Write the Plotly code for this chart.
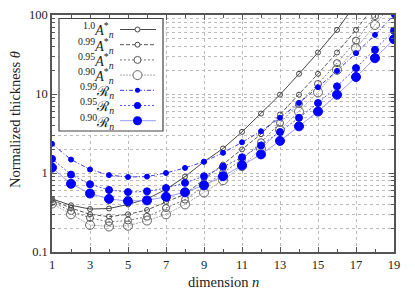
import plotly.graph_objects as go

n = list(range(1, 20))

A100 = [0.47, 0.39, 0.35, 0.355, 0.40, 0.47, 0.62, 0.90, 1.39, 2.04, 3.32, 5.65, 9.8, 18, 33.5, 64.7, 140, None, None]
A099 = [0.455, 0.36, 0.30, 0.28, 0.30, 0.34, 0.43, 0.54, 0.83, 1.28, 1.99, 3.1, 5.5, 9.8, 18, 33.5, 64.7, 135, None]
A095 = [0.43, 0.33, 0.27, 0.24, 0.25, 0.28, 0.36, 0.46, 0.68, 1.0, 1.48, 2.45, 4.3, 7.5, 13.4, 24.6, 47.4, 97, 190]
A090 = [0.41, 0.30, 0.22, 0.21, 0.215, 0.25, 0.30, 0.40, 0.565, 0.81, 1.22, 2.02, 3.5, 6.0, 10.5, 20.2, 38, 74.8, 150]
R099 = [2.34, 1.48, 1.11, 0.94, 0.89, 0.90, 1.0, 1.16, 1.39, 1.8, 2.45, 3.38, 5.0, 7.7, 12.2, 19.6, 32.9, 56, 100]
R095 = [1.51, 0.955, 0.72, 0.61, 0.574, 0.586, 0.645, 0.75, 0.91, 1.2, 1.58, 2.23, 3.3, 5.0, 7.7, 12.5, 21.3, 36.2, 63.4]
R090 = [1.17, 0.73, 0.55, 0.47, 0.44, 0.45, 0.50, 0.57, 0.70, 0.91, 1.25, 1.72, 2.55, 3.9, 6.0, 9.8, 16.4, 28.4, 49.4]

labels = [
    "<sup>1.0</sup><i>A</i><sup>*</sup><sub><i>n</i></sub>",
    "<sup>0.99</sup><i>A</i><sup>*</sup><sub><i>n</i></sub>",
    "<sup>0.95</sup><i>A</i><sup>*</sup><sub><i>n</i></sub>",
    "<sup>0.90</sup><i>A</i><sup>*</sup><sub><i>n</i></sub>",
    "<sup>0.99</sup>ℛ<sub><i>n</i></sub>",
    "<sup>0.95</sup>ℛ<sub><i>n</i></sub>",
    "<sup>0.90</sup>ℛ<sub><i>n</i></sub>",
]
values = [A100, A099, A095, A090, R099, R095, R090]

styles = [
    dict(lc="#333333", lw=0.9, dash="solid", sym="circle-open", ms=5, mc="#444444"),
    dict(lc="#444444", lw=0.9, dash="4px,2px", sym="circle-open", ms=5, mc="#444444"),
    dict(lc="#666666", lw=0.9, dash="2px,2px", sym="circle-open", ms=7, mc="#555555"),
    dict(lc="#aaaaaa", lw=1.0, dash="2px,1px", sym="circle-open", ms=9, mc="#666666"),
    dict(lc="#2020ff", lw=0.9, dash="4px,2px,1px,2px", sym="circle", ms=5, mc="#0000ff"),
    dict(lc="#4040ff", lw=0.9, dash="2px,2px", sym="circle", ms=7, mc="#0000ff"),
    dict(lc="#9090ff", lw=0.9, dash="solid", sym="circle", ms=9, mc="#0000ff"),
]

FONT = "Liberation Serif"
fig = go.Figure()
for lab, vals, st in zip(labels, values, styles):
    fig.add_trace(go.Scatter(
        x=n, y=vals, mode="lines+markers", name=lab, showlegend=False,
        line=dict(color=st["lc"], width=st["lw"], dash=st["dash"]),
        marker=dict(symbol=st["sym"], size=st["ms"], color=st["mc"],
                    line=dict(width=1, color=st["mc"])),
    ))

# plot area geometry (pixels)
L, T, W, H = 52, 15, 342, 237
def px(x):
    return (x - L) / W
def py(y):
    return (T + H - y) / H

shapes = [dict(type="rect", xref="paper", yref="paper", x0=px(59), x1=px(163),
               y0=py(131), y1=py(18.5), line=dict(color="#444444", width=1.2),
               fillcolor="white", layer="above")]
annotations = []
for i, (lab, st) in enumerate(zip(labels, styles)):
    yy = 29.5 + 15.2 * i
    annotations.append(dict(xref="paper", yref="paper", x=px(116), y=py(yy + 1),
                            text=lab, showarrow=False, xanchor="right", yanchor="middle",
                            font=dict(family=FONT, size=14, color="#222222")))
    shapes.append(dict(type="line", xref="paper", yref="paper", x0=px(120), x1=px(156),
                       y0=py(yy), y1=py(yy), layer="above",
                       line=dict(color=st["lc"], width=st["lw"], dash=st["dash"])))
    r = st["ms"] / 2
    filled = st["sym"] == "circle"
    shapes.append(dict(type="circle", xref="paper", yref="paper", xsizemode="pixel",
                       ysizemode="pixel", xanchor=px(137.5), yanchor=py(yy),
                       x0=-r, x1=r, y0=-r, y1=r, layer="above",
                       fillcolor=st["mc"] if filled else "white",
                       line=dict(color=st["mc"], width=1 if not filled else 0)))

# axis titles
annotations.append(dict(xref="paper", yref="paper", x=px(15), y=py(120),
                        text="Normalized thickness <i>θ</i>", textangle=-90, showarrow=False,
                        xanchor="center", yanchor="middle",
                        font=dict(family=FONT, size=14.5, color="#222222")))
annotations.append(dict(xref="paper", yref="paper", x=px(223), y=py(282),
                        text="dimension <i>n</i>", showarrow=False,
                        xanchor="center", yanchor="middle",
                        font=dict(family=FONT, size=14.5, color="#222222")))

axis_common = dict(showline=True, linecolor="#555555", linewidth=1.5, mirror="allticks",
                   ticks="inside", ticklen=5, tickcolor="#555555", tickwidth=1,
                   gridcolor="#bbbbbb", griddash="dot", gridwidth=0.8, automargin=False,
                   zeroline=False, tickfont=dict(family=FONT, size=12.5, color="#222222"))

fig.update_layout(
    width=415, height=291,
    margin=dict(l=L, r=415 - L - W, t=T, b=291 - T - H),
    paper_bgcolor="white", plot_bgcolor="white",
    shapes=shapes, annotations=annotations,
    xaxis=dict(range=[1, 19], tick0=1, dtick=2, **axis_common,
               minor=dict(dtick=1, ticks="inside", ticklen=3, tickcolor="#555555", showgrid=False)),
    yaxis=dict(type="log", range=[-1, 2], dtick=1, **axis_common,
               minor=dict(dtick="D1", ticks="inside", ticklen=3, tickcolor="#555555",
                          showgrid=True, gridcolor="#bbbbbb", griddash="dot", gridwidth=0.8)),
)

fig.write_html("out.html", config={"displayModeBar": False},
               post_script="document.body.style.margin='0';")
